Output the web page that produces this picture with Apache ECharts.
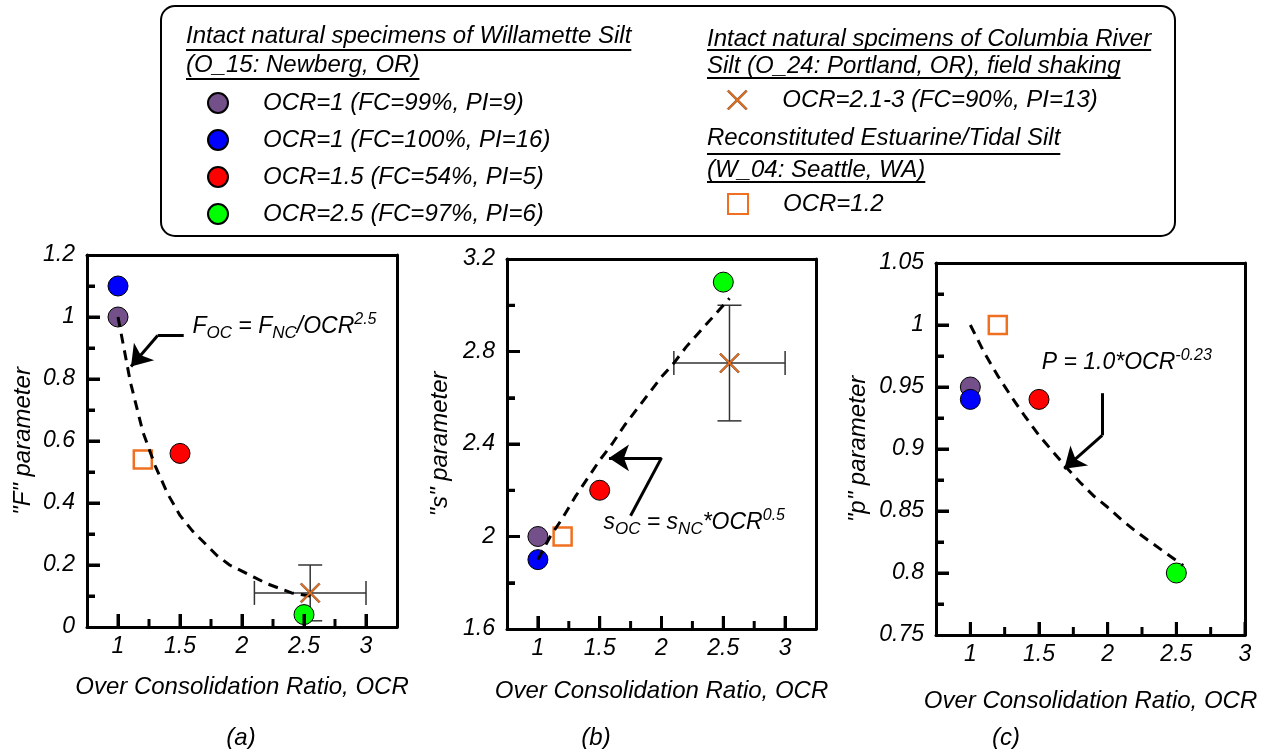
<!DOCTYPE html>
<html>
<head>
  <meta charset="UTF-8">
  <script src="https://cdn.jsdelivr.net/npm/echarts@6/dist/echarts.min.js"></script>
  <title>F, s, p parameters vs OCR</title>
  <style>
    html, body { margin: 0; background: #fff; }
    #chart { width: 1268px; height: 749px; }
  </style>
</head>
<body>
  <div id="chart"></div>
  <script>
    // intact natural specimens of Willamette Silt
    const willametteNames = ['OCR=1 (FC=99%, PI=9)', 'OCR=1 (FC=100%, PI=16)', 'OCR=1.5 (FC=54%, PI=5)', 'OCR=2.5 (FC=97%, PI=6)'];
    const willametteColors = ['#735089', '#0000ff', '#ff0000', '#00ff00'];
    const willametteOcr = [1, 1, 1.5, 2.5];
    const willametteF = [1.0, 1.1, 0.56, 0.04];
    const willametteS = [2.0, 1.9, 2.2, 3.1];
    const willametteP = [0.95, 0.94, 0.94, 0.80];

    // Columbia River Silt, field shaking (value with ranges)
    const columbiaName = 'OCR=2.1-3 (FC=90%, PI=13)';
    const columbiaOcr = 2.55;
    const columbiaOcrRange = [2.1, 3.0];
    const columbiaF = 0.11;
    const columbiaFRange = [0.02, 0.2];
    const columbiaS = 2.75;
    const columbiaSRange = [2.5, 3.0];

    // reconstituted Estuarine/Tidal Silt
    const reconName = 'OCR=1.2';
    const reconOcr = 1.2;
    const reconF = 0.54;
    const reconS = 2.0;
    const reconP = 1.0;

    // dashed trend lines
    const fitOcr = [1, 1.1, 1.2, 1.3, 1.4, 1.5, 1.6, 1.7, 1.8, 1.9, 2.0, 2.1, 2.2, 2.3, 2.4, 2.55];
    const fitF = [1.0, 0.79, 0.63, 0.52, 0.43, 0.36, 0.31, 0.27, 0.23, 0.20, 0.18, 0.16, 0.14, 0.125, 0.11, 0.10];
    const fitS = [1.9, 2.0, 2.08, 2.17, 2.25, 2.33, 2.40, 2.48, 2.55, 2.62, 2.69, 2.75, 2.82, 2.88, 2.94, 3.03];
    const fitP = [1.0, 0.978, 0.959, 0.942, 0.926, 0.911, 0.898, 0.885, 0.873, 0.862, 0.853, 0.843, 0.834, 0.826, 0.818, 0.806];

    // tick positions
    const xTicks = [1, 1.5, 2, 2.5, 3];
    const xMinorTicks = [1.25, 1.75, 2.25, 2.75];
    const fTicks = [0.2, 0.4, 0.6, 0.8, 1.0];
    const fMinorTicks = [0.1, 0.3, 0.5, 0.7, 0.9, 1.1];
    const sTicks = [2.0, 2.4, 2.8];
    const sMinorTicks = [1.8, 2.2, 2.6, 3.0];
    const pTicks = [0.8, 0.85, 0.9, 0.95, 1.0];
    const pMinorTicks = [0.775, 0.825, 0.875, 0.925, 0.975, 1.025];

    const FONT = '"Liberation Sans", Arial, sans-serif';
    const X_PATH = 'path://M1.4,0 L10,8.6 L18.6,0 L20,1.4 L11.4,10 L20,18.6 L18.6,20 L10,11.4 L1.4,20 L0,18.6 L8.6,10 L0,1.4 Z';
    const X_STYLE = { color: '#e8701e', borderColor: '#4a2a12', borderWidth: 0.5, opacity: 1 };

    const panels = [
      { grid: { left: 87, top: 255, width: 310, height: 372 }, xMax: 3.25, yMin: 0, yMax: 1.2, yInt: 0.2, yName: '"F" parameter', yGap: 52, xGap: 48,
        yTicks: fTicks, yMinorTicks: fMinorTicks,
        vals: willametteF, recon: reconF, col: columbiaF, colRange: columbiaFRange, fit: fitF,
        eq: '{m|F}{sb|OC}{m| = F}{sb|NC}{m|/OCR}{sp|2.5}', eqAt: [1.6, 0.97],
        arrow: [[[1.53, 0.94], [1.32, 0.94]], [[1.32, 0.94], [1.105, 0.84]]] },
      { grid: { left: 507, top: 259, width: 309, height: 370 }, xMax: 3.25, yMin: 1.6, yMax: 3.2, yInt: 0.4, yName: '"s" parameter', yGap: 55, xGap: 50,
        yTicks: sTicks, yMinorTicks: sMinorTicks,
        vals: willametteS, recon: reconS, col: columbiaS, colRange: columbiaSRange, fit: fitS,
        eq: '{m|s}{sb|OC}{m| = s}{sb|NC}{m|*OCR}{sp|0.5}', eqAt: [1.53, 2.06],
        arrow: [[[1.75, 2.09], [2.0, 2.34]], [[2.0, 2.34], [1.575, 2.34]]] },
      { grid: { left: 936, top: 263, width: 309, height: 372 }, xMax: 3.0, yMin: 0.75, yMax: 1.05, yInt: 0.05, yName: '"p" parameter', yGap: 66, xGap: 54,
        yTicks: pTicks, yMinorTicks: pMinorTicks,
        vals: willametteP, recon: reconP, col: null, colRange: null, fit: fitP,
        eq: '{m|P = 1.0*OCR}{sp|-0.23}', eqAt: [1.52, 0.97],
        arrow: [[[1.96, 0.945], [1.96, 0.911]], [[1.96, 0.911], [1.684, 0.884]]] }
    ];

    const labelFont = { fontFamily: FONT, fontStyle: 'italic', color: '#000' };
    const boxLine = { show: true, onZero: false, lineStyle: { color: '#000', width: 3 } };
    const noTicks = { axisTick: { show: false }, axisLabel: { show: false }, splitLine: { show: false } };

    function renderErrorBar(params, api) {
      const c = api.coord([api.value(0), api.value(1)]);
      const xl = api.coord([api.value(2), api.value(1)]);
      const xh = api.coord([api.value(3), api.value(1)]);
      const yl = api.coord([api.value(0), api.value(4)]);
      const yh = api.coord([api.value(0), api.value(5)]);
      const cap = 12;
      const style = { stroke: '#333', lineWidth: 1.5 };
      const seg = (x1, y1, x2, y2) => ({ type: 'line', shape: { x1, y1, x2, y2 }, style });
      return { type: 'group', children: [
        seg(xl[0], c[1], xh[0], c[1]),
        seg(xl[0], c[1] - cap, xl[0], c[1] + cap),
        seg(xh[0], c[1] - cap, xh[0], c[1] + cap),
        seg(c[0], yl[1], c[0], yh[1]),
        seg(c[0] - cap, yl[1], c[0] + cap, yl[1]),
        seg(c[0] - cap, yh[1], c[0] + cap, yh[1])
      ] };
    }

    // inward tick marks: [x, y, kind (0 = on x axis, 1 = on y axis), length]
    function renderTick(params, api) {
      const c = api.coord([api.value(0), api.value(1)]);
      const len = api.value(3);
      const onX = api.value(2) === 0;
      return { type: 'line',
        shape: { x1: c[0], y1: c[1], x2: onX ? c[0] : c[0] + len, y2: onX ? c[1] - len : c[1] },
        style: { stroke: '#000', lineWidth: 3 } };
    }

    const grids = [], xAxes = [], yAxes = [], series = [];
    panels.forEach((p, i) => {
      grids.push(Object.assign({ show: false }, p.grid));
      xAxes.push({
        gridIndex: i, type: 'value', min: 0.75, max: p.xMax, position: 'bottom', z: 10,
        axisLine: boxLine,
        axisTick: { show: true, inside: true, length: 13, lineStyle: { color: '#000', width: 3 }, customValues: xTicks },
        axisLabel: Object.assign({ show: true, customValues: xTicks, fontSize: 23, margin: 8 }, labelFont),
        splitLine: { show: false },
        name: 'Over Consolidation Ratio, OCR', nameLocation: 'middle', nameGap: p.xGap,
        nameTextStyle: Object.assign({ fontSize: 24 }, labelFont)
      });
      xAxes.push(Object.assign({ gridIndex: i, type: 'value', min: 0.75, max: p.xMax, position: 'top', z: 10, axisLine: boxLine }, noTicks));
      yAxes.push({
        gridIndex: i, type: 'value', min: p.yMin, max: p.yMax, interval: p.yInt, position: 'left', z: 10,
        axisLine: boxLine,
        axisTick: { show: true, inside: true, length: 13, lineStyle: { color: '#000', width: 3 } },
        minorTick: { show: true, splitNumber: 2, length: 8, lineStyle: { color: '#000', width: 3 } },
        axisLabel: Object.assign({ show: true, fontSize: 23, margin: 12 }, labelFont),
        splitLine: { show: false },
        name: p.yName, nameLocation: 'middle', nameGap: p.yGap,
        nameTextStyle: Object.assign({ fontSize: 24 }, labelFont)
      });
      yAxes.push(Object.assign({ gridIndex: i, type: 'value', min: p.yMin, max: p.yMax, position: 'right', z: 10, axisLine: boxLine }, noTicks));

      const xi = 2 * i;
      const yi = 2 * i;
      const ticks = []
        .concat(xTicks.map(v => [v, p.yMin, 0, 13]))
        .concat(xMinorTicks.map(v => [v, p.yMin, 0, 8]))
        .concat(p.yTicks.map(v => [0.75, v, 1, 13]))
        .concat(p.yMinorTicks.map(v => [0.75, v, 1, 8]));
      series.push({
        type: 'custom', name: 'ticks' + i, xAxisIndex: xi, yAxisIndex: yi, z: 5, silent: true, clip: false,
        renderItem: renderTick, encode: { x: 0, y: 1 }, data: ticks
      });
      if (p.col !== null) {
        series.push({
          type: 'custom', name: 'error', xAxisIndex: xi, yAxisIndex: yi, z: 1, silent: true,
          renderItem: renderErrorBar, encode: { x: 0, y: 1 },
          data: [[columbiaOcr, p.col, columbiaOcrRange[0], columbiaOcrRange[1], p.colRange[0], p.colRange[1]]]
        });
      }
      willametteNames.forEach((name, k) => {
        series.push({
          type: 'scatter', name, xAxisIndex: xi, yAxisIndex: yi, z: 2,
          symbol: 'circle', symbolSize: 20,
          itemStyle: { color: willametteColors[k], borderColor: '#000', borderWidth: 1, opacity: 1 },
          data: [[willametteOcr[k], p.vals[k]]]
        });
      });
      series.push({
        type: 'scatter', name: reconName, xAxisIndex: xi, yAxisIndex: yi, z: 2,
        symbol: 'rect', symbolSize: 18,
        itemStyle: { color: '#fff', borderColor: '#f07021', borderWidth: 2.5, opacity: 1 },
        data: [[reconOcr, p.recon]]
      });
      series.push({
        type: 'line', name: 'fit' + i, xAxisIndex: xi, yAxisIndex: yi, z: 3,
        showSymbol: false, symbol: 'none', silent: true,
        lineStyle: { color: '#000', width: 3, type: [10, 7] },
        data: fitOcr.map((x, k) => [x, p.fit[k]]),
        markLine: {
          silent: true, symbol: ['none', 'none'], symbolSize: 20, animation: false,
          label: { show: false },
          lineStyle: { color: '#000', width: 3, type: 'solid' },
          data: [
            [{ coord: p.arrow[0][0] }, { coord: p.arrow[0][1] }],
            [{ coord: p.arrow[1][0] }, { coord: p.arrow[1][1], symbol: 'arrow' }]
          ]
        },
        markPoint: {
          silent: true, symbol: 'circle', symbolSize: 0, animation: false,
          data: [{ coord: p.eqAt }],
          label: {
            show: true, position: 'right', distance: 0, formatter: p.eq,
            fontFamily: FONT, fontStyle: 'italic', color: '#000',
            rich: {
              m: { fontSize: 23, lineHeight: 30, fontFamily: FONT, fontStyle: 'italic', color: '#000' },
              sb: { fontSize: 17, lineHeight: 17, verticalAlign: 'bottom', fontFamily: FONT, fontStyle: 'italic', color: '#000' },
              sp: { fontSize: 16, lineHeight: 16, verticalAlign: 'top', fontFamily: FONT, fontStyle: 'italic', color: '#000' }
            }
          }
        }
      });
      if (p.col !== null) {
        series.push({
          type: 'scatter', name: columbiaName, xAxisIndex: xi, yAxisIndex: yi, z: 4,
          symbol: X_PATH, symbolSize: 20, itemStyle: X_STYLE,
          data: [[columbiaOcr, p.col]]
        });
      }
    });

    // legend box, headers and underlines
    const ctx = document.createElement('canvas').getContext('2d');
    ctx.font = 'italic 24px "Liberation Sans"';
    const headers = [
      ['Intact natural specimens of Willamette Silt', 186, 36, 50],
      ['(O_15: Newberg, OR)', 186, 65, 79],
      ['Intact natural spcimens of Columbia River', 707, 39, 50],
      ['Silt (O_24: Portland, OR), field shaking', 707, 66, 78],
      ['Reconstituted Estuarine/Tidal Silt', 707, 138, 154],
      ['(W_04: Seattle, WA)', 707, 170, 182]
    ];
    const graphic = [{
      type: 'rect', shape: { x: 161, y: 6, width: 1014, height: 230, r: 14 },
      style: { fill: 'none', stroke: '#000', lineWidth: 2 }
    }];
    headers.forEach(h => {
      graphic.push({ type: 'text', x: h[1], y: h[2],
        style: { text: h[0], fontSize: 24, fontFamily: FONT, fontStyle: 'italic', fill: '#000', align: 'left', verticalAlign: 'middle' } });
      graphic.push({ type: 'line', shape: { x1: h[1], y1: h[3], x2: h[1] + ctx.measureText(h[0]).width, y2: h[3] },
        style: { stroke: '#000', lineWidth: 2 } });
    });
    [['(a)', 241], ['(b)', 596], ['(c)', 1006]].forEach(t => {
      graphic.push({ type: 'text', x: t[1], y: 738,
        style: { text: t[0], fontSize: 24, fontFamily: FONT, fontStyle: 'italic', fill: '#000', align: 'center', verticalAlign: 'middle' } });
    });

    const legendText = { fontSize: 24, fontFamily: FONT, fontStyle: 'italic', color: '#000', lineHeight: 20, padding: [0, 0, 0, 30] };
    const legends = [
      { data: willametteNames, left: 207, top: 91, orient: 'vertical', itemGap: 13 },
      { data: [{ name: columbiaName, icon: X_PATH, itemStyle: X_STYLE }], left: 727, top: 88, orient: 'vertical' },
      { data: [{ name: reconName, icon: 'rect' }], left: 727, top: 192, orient: 'vertical' }
    ].map(l => Object.assign({ itemWidth: 20, itemHeight: 20, selectedMode: false, padding: 0, textStyle: legendText }, l));

    const chart = echarts.init(document.getElementById('chart'));
    chart.setOption({
      animation: false,
      backgroundColor: '#fff',
      grid: grids,
      xAxis: xAxes,
      yAxis: yAxes,
      legend: legends,
      graphic: graphic,
      series: series
    });
  </script>
</body>
</html>
